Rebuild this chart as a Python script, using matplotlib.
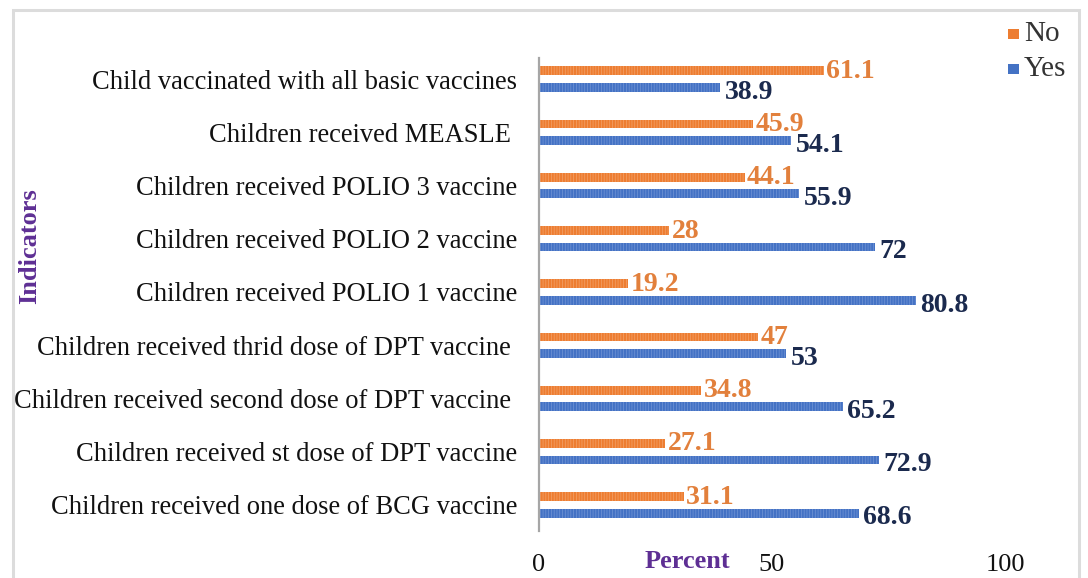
import matplotlib
matplotlib.use("Agg")
import matplotlib.pyplot as plt
from matplotlib.patches import Rectangle
import numpy as np

# Vaccination indicators (listed top to bottom as displayed)
indicators = [
    "Child vaccinated with all basic vaccines",
    "Children received MEASLE ",
    "Children received POLIO 3 vaccine",
    "Children received POLIO 2 vaccine",
    "Children received POLIO 1 vaccine",
    "Children received thrid dose of DPT vaccine ",
    "Children received second dose of DPT vaccine ",
    "Children received st dose of DPT vaccine",
    "Children received one dose of BCG vaccine",
]
no_values = [61.1, 45.9, 44.1, 28, 19.2, 47, 34.8, 27.1, 31.1]
yes_values = [38.9, 54.1, 55.9, 72, 80.8, 53, 65.2, 72.9, 68.6]
no_labels = ["61.1", "45.9", "44.1", "28", "19.2", "47", "34.8", "27.1", "31.1"]
yes_labels = ["38.9", "54.1", "55.9", "72", "80.8", "53", "65.2", "72.9", "68.6"]
x_ticks = [0, 50, 100]
series_names = ["No", "Yes"]

ORANGE = "#ED7D31"
BLUE = "#4472C4"
ORANGE_HATCH = "#F3A36C"
BLUE_HATCH = "#7396D6"
ORANGE_TXT = "#E2803C"
NAVY_TXT = "#1B2A4E"
PURPLE = "#5E2F94"
SERIF = "Liberation Serif"

W, H = 1088, 578
fig = plt.figure(figsize=(W / 100, H / 100), dpi=100)
fig.patch.set_facecolor("white")

# light frame around the chart
fig.add_artist(Rectangle((13 / W, -0.05), (1079 - 13) / W, 1.05 - 10 / H,
                         transform=fig.transFigure, fill=False,
                         edgecolor="#DCDCDC", linewidth=2.2))

left, right = 539 / W, 1005 / W
top, bottom = 1 - 58 / H, 1 - 531 / H
ax = fig.add_axes([left, bottom, right - left, top - bottom])

n = len(indicators)
pos = np.arange(n)[::-1]  # top item gets the largest position
bh = 0.165
off = 0.155

plt.rcParams["hatch.linewidth"] = 0.5
ax.barh(pos + off, no_values, height=bh, color=ORANGE, edgecolor=ORANGE_HATCH,
        linewidth=0, hatch="||||||", label=series_names[0])
ax.barh(pos - off, yes_values, height=bh, color=BLUE, edgecolor=BLUE_HATCH,
        linewidth=0, hatch="||||||", label=series_names[1])

for p, v, t in zip(pos, no_values, no_labels):
    ax.text(v + 0.5, p + off - 0.01, t, color=ORANGE_TXT, fontsize=20,
            fontweight="bold", family=SERIF, va="center", ha="left",
            clip_on=False)
for p, v, t in zip(pos, yes_values, yes_labels):
    ax.text(v + 1.0, p - off - 0.09, t, color=NAVY_TXT, fontsize=20,
            fontweight="bold", family=SERIF, va="center", ha="left",
            clip_on=False)

ax.set_xlim(0, 100)
ax.set_ylim(-0.49, 8.395)
ax.set_yticks(pos)
ax.set_yticklabels(indicators, family=SERIF, fontsize=19.1, color="#111111")
ax.set_xticks(x_ticks)
ax.set_xticklabels([str(t) for t in x_ticks], family=SERIF, fontsize=19,
                   color="#111111")
ax.tick_params(axis="y", length=0, pad=15.5)
ax.tick_params(axis="x", length=0, pad=16.5)

for s in ["top", "right", "bottom"]:
    ax.spines[s].set_visible(False)
ax.spines["left"].set_color("#A6A6A6")
ax.spines["left"].set_linewidth(1.6)
ax.set_facecolor("none")

fig.text(687 / W, 1 - 562 / H, "Percent", family=SERIF, fontweight="bold",
         fontsize=19, color=PURPLE, ha="center", va="center")
fig.text(30 / W, 1 - 246 / H, "Indicators", family=SERIF, fontweight="bold",
         fontsize=19, color=PURPLE, ha="center", va="center", rotation=90)

# legend: small solid swatches with serif labels, top-right corner
for name, col, yc in zip(series_names, [ORANGE, BLUE], [34, 69]):
    fig.add_artist(Rectangle((1008 / W, 1 - (yc + 5) / H), 10.5 / W, 10.5 / H,
                             transform=fig.transFigure, facecolor=col,
                             edgecolor="none"))
    fig.text(1024 / W, 1 - yc / H, name, family=SERIF, fontsize=21,
             color="#333333", ha="left", va="center")

fig.savefig("out.png", dpi=100, facecolor="white")
